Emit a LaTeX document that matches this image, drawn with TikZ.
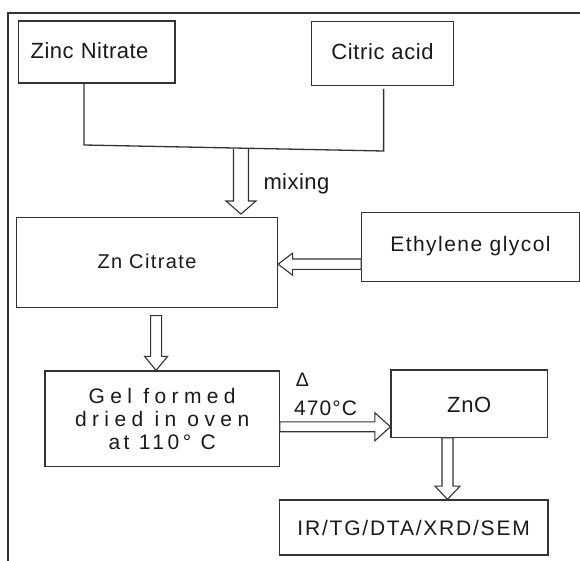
\documentclass[tikz,border=0pt]{standalone}
\usepackage{fontspec}
\setmainfont{Liberation Sans}
\usetikzlibrary{calc}
\definecolor{linecol}{HTML}{333333}
\definecolor{textcol}{HTML}{1A1A1A}
\newcommand\myfs[2]{\fontsize{#1}{#2}\selectfont}
\begin{document}
\begin{tikzpicture}[x=1pt,y=-1pt,
  box/.style={draw=linecol, line width=1.2pt, inner sep=0pt, rectangle, text=textcol},
  hollow/.style={draw=linecol, line width=1.1pt, fill=white, line join=miter},
  conn/.style={draw=linecol, line width=1.3pt},
  txt/.style={inner sep=0pt, text=textcol}]
\useasboundingbox (0,0) rectangle (580,561);
\fill[white] (0,0) rectangle (580,561);
% outer frame
\coordinate (fa) at (8,562);
\coordinate (fb) at (8,13);
\coordinate (fc) at (581,13);
\draw[linecol, line width=2.2pt] (fa) -- (fb) -- (fc);

% boxes
\node[box, minimum width=156.7pt, minimum height=62pt, text width=131.9pt, align=left,
  inner xsep=12.4pt, text height=12.6pt, text depth=0pt,
  font=\myfs{22}{26}\addfontfeature{LetterSpace=2}] (zinc) at (96.65,52) {Zinc Nitrate};
\node[box, minimum width=142pt, minimum height=63.6pt, text height=13pt, text depth=0pt,
  font=\myfs{22}{26}\addfontfeature{LetterSpace=3}] (citric) at (382.5,53.5) {Citric acid};
\node[box, minimum width=261pt, minimum height=90pt, text height=11.2pt, text depth=0pt,
  font=\myfs{20}{24}\addfontfeature{LetterSpace=7}] (zncit) at (147,262.7) {Zn Citrate};
\node[box, minimum width=217.6pt, minimum height=69.4pt, text height=9.4pt, text depth=0pt,
  font=\myfs{21}{25}\addfontfeature{LetterSpace=7}] (ethyl) at (470.5,247) {Ethylene glycol};
\node[box, minimum width=234.3pt, minimum height=95.7pt, align=center,
  font=\myfs{21}{23.3}] (gel) at (162.15,418.85)
  {{\addfontfeature{LetterSpace=25.7}Gel formed}\\{\addfontfeature{LetterSpace=25.7}dried in oven}\\{\addfontfeature{LetterSpace=16.6}at 110° C}};
\node[box, minimum width=156.5pt, minimum height=67.3pt, text height=17pt, text depth=0pt,
  font=\myfs{22}{26}\addfontfeature{LetterSpace=3}] (zno) at (469.25,403.65) {ZnO};
\node[box, minimum width=268.7pt, minimum height=55pt, text height=15pt, text depth=0pt,
  font=\myfs{21}{25}\addfontfeature{LetterSpace=8.5}] (ir) at (413.65,527.5) {IR/TG/DTA/XRD/SEM};

% labels
\node[txt, anchor=base west, font=\myfs{22}{26}\addfontfeature{LetterSpace=2}] (mix) at (263.3,190) {mixing};
\node[txt, anchor=base, font=\myfs{19.5}{22}] (delta) at (302.5,386) {Δ};
\node[txt, anchor=base west, font=\myfs{21}{25}\addfontfeature{LetterSpace=5}] (temp) at (294,415) {470°C};

% mixing arrow (drawn before the junction line)
\coordinate (mtop) at (241,149);
\coordinate (mtip) at (241,214);
\draw[hollow] let \p1=(mtop), \p2=(mtip) in
  (\x1-7.5pt,\y1) -- (\x1-7.5pt,\y2+13pt) -- (\x1-15pt,\y2+13pt) -- (\x2,\y2)
  -- (\x1+15pt,\y2+13pt) -- (\x1+7.5pt,\y2+13pt) -- (\x1+7.5pt,\y1);

% junction lines from the two reagents
\coordinate (ja) at (84,145);
\coordinate (jb) at (383.6,151);
\coordinate (cb) at ([yshift=-3pt]citric.south);
\draw[conn] (zinc.south -| ja) -- (ja) -- (jb) -- (cb -| jb);

% Ethylene glycol -> Zn Citrate
\coordinate (ey) at (0,264.2);
\coordinate (ea) at (ethyl.west |- ey);
\coordinate (eb) at (zncit.east |- ey);
\draw[hollow] let \p1=(ea), \p2=(eb) in
  (\x1,\y1+5.2pt) -- (\x2+14.5pt,\y1+5.2pt) -- (\x2+14.5pt,\y1+11pt) -- (\x2,\y2)
  -- (\x2+14.5pt,\y1-11pt) -- (\x2+14.5pt,\y1-5.2pt) -- (\x1,\y1-5.2pt) -- cycle;

% Zn Citrate -> Gel
\coordinate (gx) at (156.1,0);
\coordinate (ga) at ([yshift=-7.3pt]zncit.south -| gx);
\coordinate (gb) at (gel.north -| gx);
\draw[hollow] let \p1=(ga), \p2=(gb) in
  (\x1-5.5pt,\y1) -- (\x1-5.5pt,\y2+14pt) -- (\x1-11.5pt,\y2+14pt) -- (\x2,\y2)
  -- (\x1+11.5pt,\y2+14pt) -- (\x1+5.5pt,\y2+14pt) -- (\x1+5.5pt,\y1) -- cycle;

% Gel -> ZnO
\coordinate (hy) at (0,426.8);
\coordinate (ha) at (gel.east |- hy);
\coordinate (hb) at (zno.west |- hy);
\draw[hollow] let \p1=(ha), \p2=(hb) in
  (\x1,\y1+4.9pt) -- (\x2-15.5pt,\y1+4.9pt) -- (\x2-15.5pt,\y1+14pt) -- (\x2,\y2)
  -- (\x2-15.5pt,\y1-14pt) -- (\x2-15.5pt,\y1-4.9pt) -- (\x1,\y1-4.9pt) -- cycle;

% ZnO -> IR
\coordinate (kx) at (447.5,0);
\coordinate (ka) at (zno.south -| kx);
\coordinate (kb) at (ir.north -| kx);
\draw[hollow] let \p1=(ka), \p2=(kb) in
  (\x1-5.5pt,\y1) -- (\x1-5.5pt,\y2+13.3pt) -- (\x1-12.5pt,\y2+13.3pt) -- (\x2,\y2)
  -- (\x1+12.5pt,\y2+13.3pt) -- (\x1+5.5pt,\y2+13.3pt) -- (\x1+5.5pt,\y1) -- cycle;
\end{tikzpicture}
\end{document}
